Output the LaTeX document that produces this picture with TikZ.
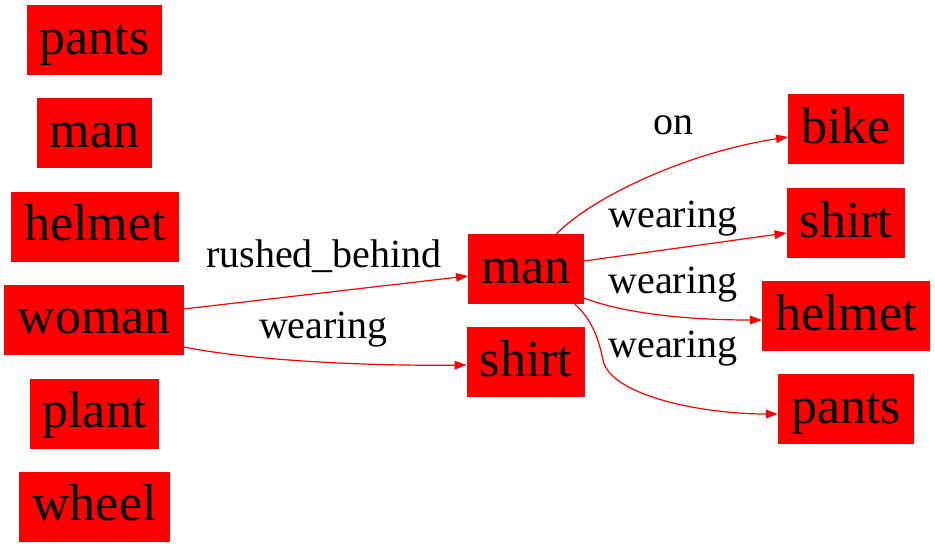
\documentclass[tikz,border=0pt]{standalone}
\usepackage{fontspec}
\setmainfont{Liberation Serif}
\usetikzlibrary{arrows.meta}
\begin{document}
\begin{tikzpicture}[x=1pt,y=-1pt,
  box/.style={fill=red, draw=none, inner xsep=13pt, inner ysep=0pt,
    minimum height=70pt, text height=39pt, text depth=10.4pt,
    font=\fontsize{52}{60}\selectfont},
  lbl/.style={anchor=base, inner sep=0pt, font=\fontsize{40}{48}\selectfont},
  conn/.style={draw=red, line width=1.2pt, -{Triangle[length=12pt,width=8.5pt]}}]
\useasboundingbox (0,0) rectangle (935,547);
% left column
\node[box] (pantsL)  at (94.5,40)    {pants};
\node[box] (manL)    at (94.5,133)   {man};
\node[box] (helmetL) at (95,226.5)   {helmet};
\node[box] (woman)   at (94,319.5)   {woman};
\node[box] (plant)   at (94.5,413.5) {plant};
\node[box] (wheel)   at (94.5,506.5) {wheel};
% middle
\node[box] (man)     at (526,269)    {man};
\node[box] (shirtM)  at (526,362)    {shirt};
% right column
\node[box] (bike)    at (846,129)    {bike};
\node[box] (shirtR)  at (846,223)    {shirt};
\node[box] (helmetR) at (846,316)    {helmet};
\node[box] (pantsR)  at (846,409)    {pants};
% connectors
\draw[conn] ([yshift=10.5pt]woman.east) -- ([yshift=-7pt]man.west);
\draw[conn] ([yshift=-27.5pt]woman.east) .. controls (260,362) and (380,366) .. ([yshift=-3pt]shirtM.west);
\draw[conn] ([xshift=30.5pt]man.north) .. controls (595,195) and (690,152) .. ([yshift=-8pt]bike.west);
\draw[conn] ([yshift=8pt]man.east) -- ([yshift=-10pt]shirtR.west);
\draw[conn] ([yshift=-29pt]man.east) .. controls (620,312) and (680,320) .. ([yshift=-4pt]helmetR.west);
\coordinate (bend) at (603,360);
\draw[conn] ([xshift=49pt]man.south) .. controls (590,318) and (598,335) .. (bend)
  .. controls (610,395) and (700,414) .. ([yshift=-5pt]pantsR.west);
% labels
\node[lbl] (l1) at (324,267)   {rushed\_behind};
\node[lbl] (l2) at (323.5,338) {wearing};
\node[lbl] (l3) at (673.5,134) {on};
\node[lbl] (l4) at (673,227)   {wearing};
\node[lbl] (l5) at (673,293)   {wearing};
\node[lbl] (l6) at (673,357)   {wearing};
\end{tikzpicture}
\end{document}
